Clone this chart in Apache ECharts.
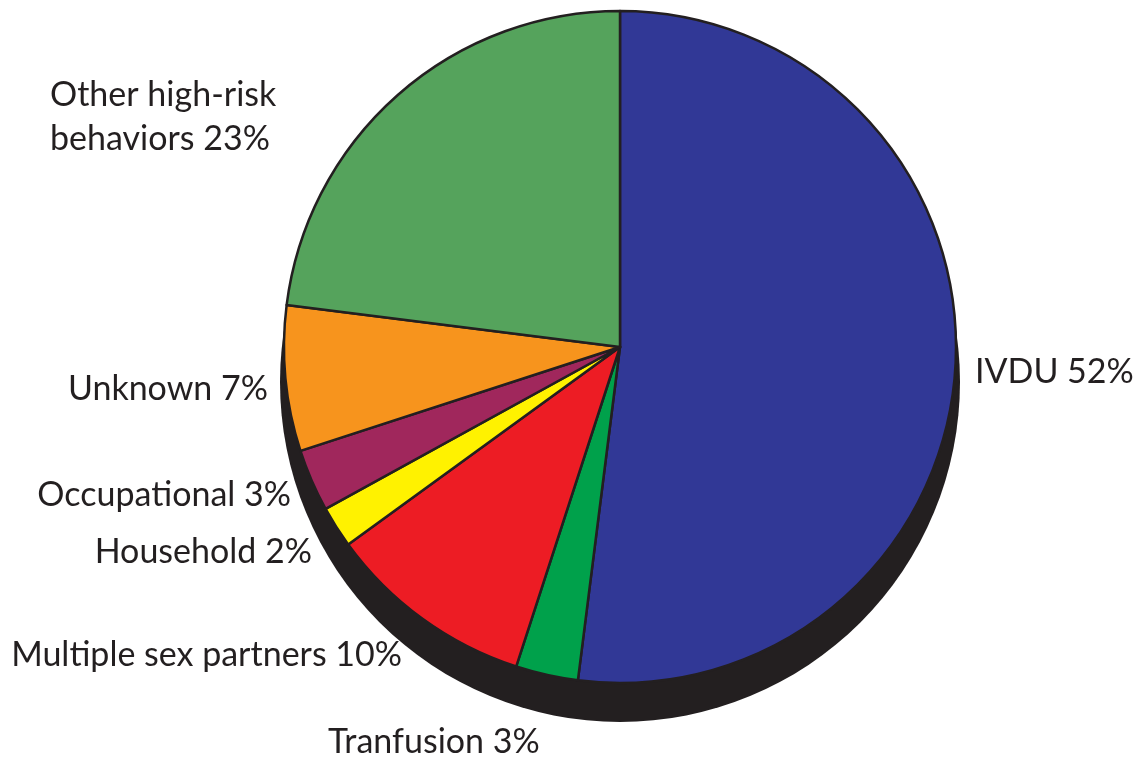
<!DOCTYPE html>
<html>
<head>
<meta charset="utf-8">
<script src="https://cdn.jsdelivr.net/npm/echarts@6/dist/echarts.min.js"></script>
<style>
  html, body { margin: 0; padding: 0; background: #ffffff; }
  #chart { width: 1136px; height: 758px; }
</style>
</head>
<body>
<div id="chart"></div>
<script>
// Routes of transmission, clockwise from 12 o'clock
const categories = [
  'IVDU',
  'Tranfusion',
  'Multiple sex partners',
  'Household',
  'Occupational',
  'Unknown',
  'Other high-risk\nbehaviors'
];
const shares = [52, 3, 10, 2, 3, 7, 23];
const sliceColors = ['#313896', '#00A14B', '#ED1C24', '#FFF200', '#A0275C', '#F7941D', '#55A35C'];

// Label anchor for each slice: [x, y, text alignment]
const labelAnchors = [
  [975, 372, 'left'],
  [328, 742, 'left'],
  [402, 655, 'right'],
  [312, 552, 'right'],
  [291, 495, 'right'],
  [268, 389, 'right'],
  [50, 117, 'left']
];

const ink = '#231F20';
const pieCenter = [620, 347];
const pieRadius = 336;

const chart = echarts.init(document.getElementById('chart'), null, { renderer: 'canvas' });

chart.setOption({
  animation: false,
  backgroundColor: '#ffffff',
  series: [
    {
      // dark base under the disc
      type: 'pie',
      silent: true,
      center: [pieCenter[0], pieCenter[1] + 35],
      radius: pieRadius + 4,
      label: { show: false },
      labelLine: { show: false },
      itemStyle: { color: ink, borderWidth: 0 },
      data: [{ name: 'base', value: 1 }],
      z: 1
    },
    {
      type: 'pie',
      center: pieCenter,
      radius: pieRadius,
      startAngle: 90,
      clockwise: true,
      z: 2,
      itemStyle: { borderColor: ink, borderWidth: 2.5 },
      label: {
        show: true,
        position: 'outside',
        formatter: p => p.name + ' ' + p.value + '%',
        fontFamily: 'Lato',
        fontSize: 34,
        lineHeight: 44,
        color: ink,
        overflow: 'none',
        width: 600
      },
      labelLine: { show: false },
      labelLayout: p => {
        const a = labelAnchors[p.dataIndex];
        return { x: a[0], y: a[1], align: a[2], verticalAlign: 'middle', hideOverlap: false };
      },
      data: categories.map((name, i) => ({
        name: name,
        value: shares[i],
        itemStyle: { color: sliceColors[i] }
      }))
    }
  ]
});
</script>
</body>
</html>
